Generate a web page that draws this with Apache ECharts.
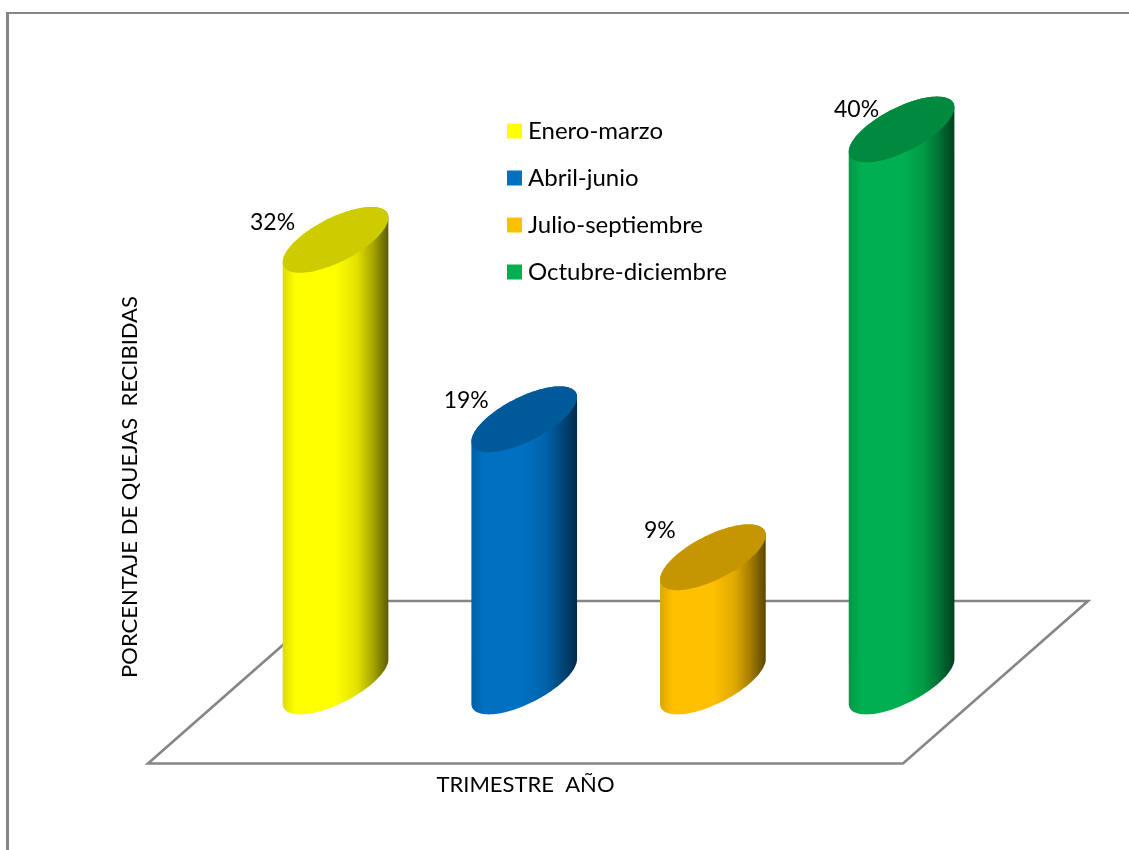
<!DOCTYPE html>
<html><head><meta charset="utf-8">
<style>html,body{margin:0;padding:0;background:#fff}#c{width:1129px;height:850px}</style>
<script src="https://cdn.jsdelivr.net/npm/echarts@6/dist/echarts.min.js"></script>
</head><body><div id="c"></div>
<script>
const categories = ['Enero-marzo','Abril-junio','Julio-septiembre','Octubre-diciembre'];
const values = [32,19,9,40];
const labels = ['32%','19%','9%','40%'];
const bodyColors = ['#ffff00','#0070c0','#ffc000','#00b050'];
const topColors = ['#cccc00','#005a9a','#c69600','#008a40'];
const leftColors = ['#dcdc00','#0060a4','#dca600','#009846'];
const midColors = ['#e2e200','#0063aa','#e2aa00','#009c47'];
const deepColors = ['#a3a300','#00477a','#a37b00','#007034'];
const edgeColors = ['#5c5c00','#002a4c','#5c4500','#003f1d'];
const labelNudge = [[-63,-17],[-58,-19],[-53,-27],[-45,-20]];

const FONT = 'Lato';
const GREY = '#868686';

function ring(cx, cy, w, a, b, from, to, n){
  const pts = [];
  for(let i=0;i<=n;i++){
    const t = from + (to-from)*i/n;
    pts.push([cx + w*Math.cos(t), cy - a*Math.cos(t) - b*Math.sin(t)]);
  }
  return pts;
}
function cylinder(i){
  return function(params, api){
    const top = api.coord([i, api.value(1)]);
    const base = api.coord([i, 0]);
    const w = api.size([1,0])[0]*0.28;
    const a = w*0.42, b = w*0.46;
    const front = ring(base[0], base[1], w, a, b, Math.PI, 2*Math.PI, 60);
    const back = ring(top[0], top[1], w, a, b, 0, Math.PI, 60);
    const grad = new echarts.graphic.LinearGradient(0,0,1,0,[
      {offset:0,color:leftColors[i]},
      {offset:0.12,color:bodyColors[i]},
      {offset:0.5,color:bodyColors[i]},
      {offset:0.7,color:midColors[i]},
      {offset:0.86,color:deepColors[i]},
      {offset:1,color:edgeColors[i]}
    ]);
    return {type:'group',children:[
      {type:'polygon',shape:{points:front.concat(back)},style:{fill:grad}},
      {type:'polygon',shape:{points:ring(top[0],top[1],w,a,b,0,2*Math.PI,120)},style:{fill:topColors[i]}},
      {type:'text',x:top[0]+labelNudge[i][0],y:top[1]+labelNudge[i][1],
       style:{text:labels[i],font:'23px '+FONT,fill:'#000',align:'center',verticalAlign:'middle'}}
    ]};
  };
}
const chart = echarts.init(document.getElementById('c'),null,{renderer:'canvas'});
chart.setOption({
  animation:false,
  backgroundColor:'#fff',
  grid:{left:241.2,top:60.5,width:754.7,height:621},
  xAxis:{type:'category',data:categories,show:false},
  yAxis:{type:'value',min:0,max:45,show:false},
  legend:{left:507,top:119,orient:'vertical',icon:'rect',itemWidth:15,itemHeight:15,itemGap:23,
    data:categories,textStyle:{fontFamily:FONT,fontSize:24,color:'#000',padding:[0,0,0,1]},selectedMode:false,padding:0},
  graphic:[
    {type:'polyline',z:0,shape:{points:[[333,601],[148,763.5],[903,763.5],[1088,601],[333,601]]},style:{stroke:GREY,lineWidth:2.6,fill:null}},
    {type:'polyline',z:0,shape:{points:[[7.5,850],[7.5,12]]},style:{stroke:GREY,lineWidth:3,fill:null}},
    {type:'polyline',z:0,shape:{points:[[6,13],[1129,13]]},style:{stroke:GREY,lineWidth:2,fill:null}},
    {type:'text',z:5,x:130,y:487,rotation:Math.PI/2,style:{text:'PORCENTAJE DE QUEJAS  RECIBIDAS',font:'22px '+FONT,fill:'#000',align:'center',verticalAlign:'middle'}},
    {type:'text',z:5,x:525.5,y:785,style:{text:'TRIMESTRE  AÑO',font:'22px '+FONT,fill:'#000',align:'center',verticalAlign:'middle'}}
  ],
  series:categories.map((name,i)=>({
    name,type:'custom',z:2,clip:false,
    itemStyle:{color:bodyColors[i]},
    encode:{x:0,y:1},
    data:[[i,values[i]]],
    renderItem:cylinder(i)
  }))
});
</script></body></html>
